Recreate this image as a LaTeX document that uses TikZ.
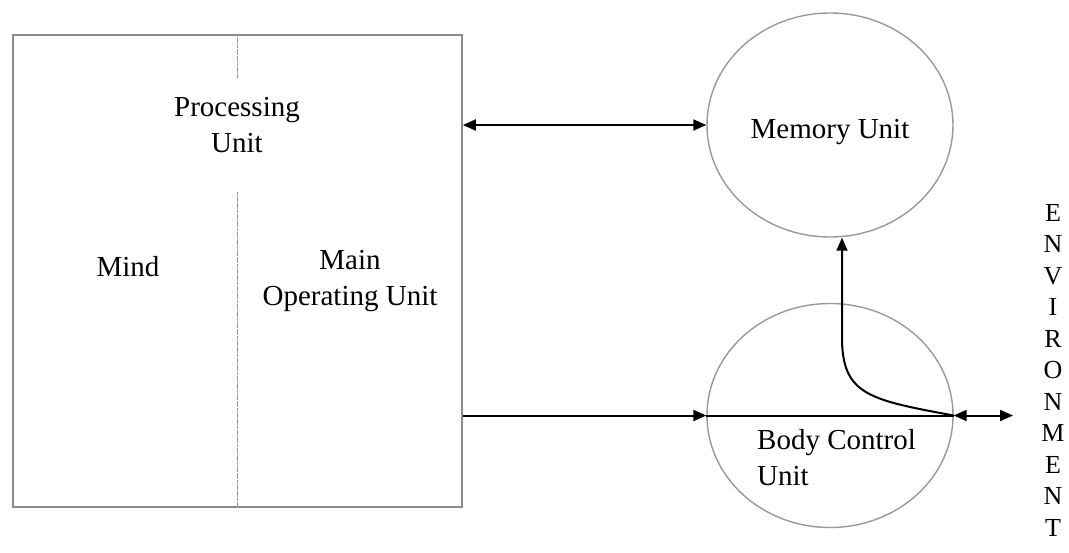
\documentclass[tikz,border=0pt]{standalone}
\usepackage{fontspec}
\setmainfont{Liberation Serif}
\usetikzlibrary{arrows.meta,calc,shapes.geometric}
\begin{document}
\begin{tikzpicture}[x=1pt,y=-1pt,
  lbl/.style={font=\fontsize{29}{36.5}\selectfont, inner sep=0pt, align=center},
  unit/.style={ellipse, draw=black!40, line width=1.4pt, minimum width=246pt, minimum height=224pt, inner sep=0pt},
  frame/.style={draw=black!45, line width=1.7pt, minimum width=449pt, minimum height=472pt, inner sep=0pt},
  divider/.style={draw=black!40, line width=1.5pt, dash pattern=on 3pt off 0.6pt},
  link/.style={line width=2pt, -{Triangle[length=13pt,width=11pt]}},
  biway/.style={line width=2pt, {Triangle[length=13pt,width=11pt]}-{Triangle[length=13pt,width=11pt]}},
  plain/.style={line width=2pt}]
\useasboundingbox (0,0) rectangle (1069,552);
% processing unit box
\node[frame] (pu) at (237.5,271) {};
\coordinate (d1) at (237.5,78);
\coordinate (d2) at (237.5,192);
\draw[divider] (pu.north) -- (d1);
\draw[divider] (d2) -- (pu.south);
\node[lbl] (proc) at (237,125) {Processing\\Unit};
\node[lbl] (mind) at (128,267) {Mind};
\node[lbl] (mou) at (350,281) {Main\\Operating Unit};
% memory unit
\node[unit] (mem) at (830,125) {};
\node[lbl] (memtxt) at (830,132) {Memory Unit};
% body control unit
\node[unit] (bcu) at (830,415.5) {};
\node[lbl, align=left, anchor=west] (bcutxt) at (757,457.5) {Body Control\\Unit};
% environment
\node[font=\fontsize{26}{31.5}\selectfont, align=center, inner sep=0pt] (env) at (1053,370) {E\\N\\V\\I\\R\\O\\N\\M\\E\\N\\T};
% connectors
\draw[biway] (pu.east |- mem.west) -- (mem.west);
\draw[link] (pu.east |- bcu.west) -- (bcu.west);
\draw[plain] (bcu.west) -- (bcu.east);
\coordinate (envpt) at (1013,415.5);
\draw[biway] (bcu.east) -- (envpt);
\coordinate (mtip) at ($(mem.south)+(12,0)$);
\draw[link] (bcu.east) .. controls (870,400) and (843,395) .. (842,340) -- (mtip);
\end{tikzpicture}
\end{document}
